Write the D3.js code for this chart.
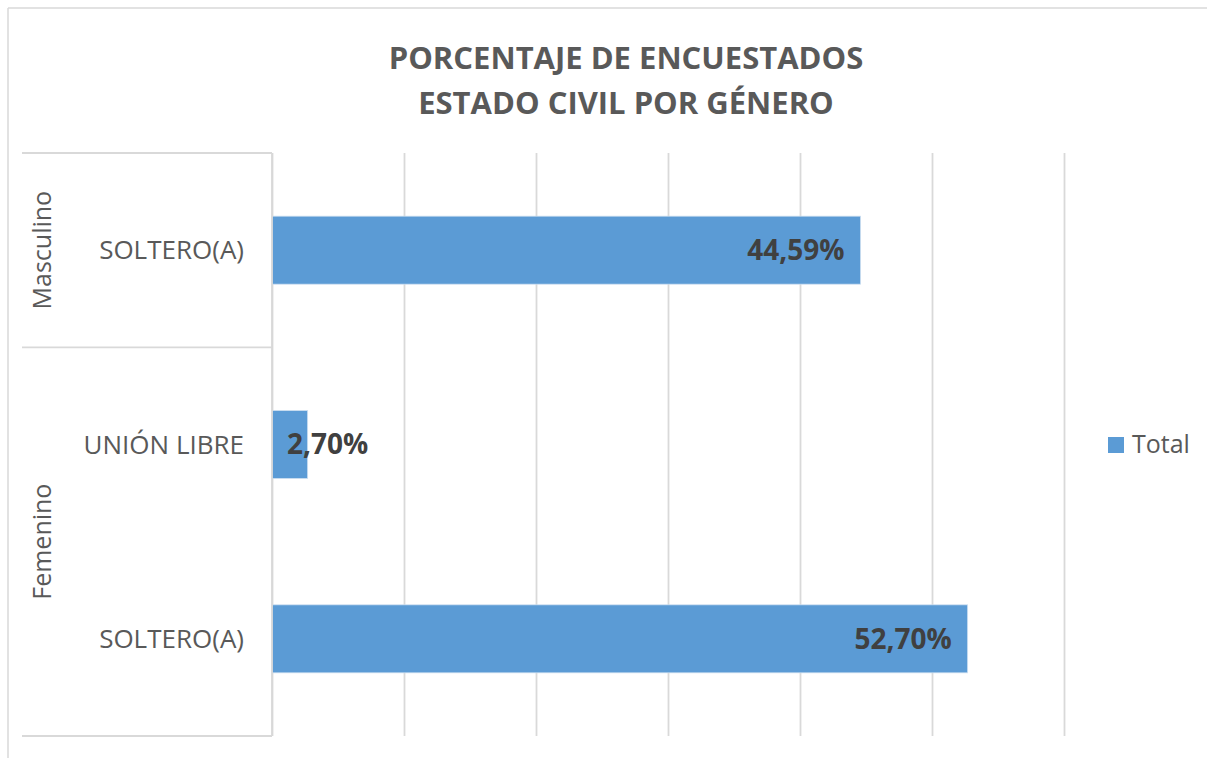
<!DOCTYPE html>
<html>
<head>
<meta charset="utf-8">
<script src="https://cdn.jsdelivr.net/npm/d3@7"></script>
<style>
  body { margin: 0; background: #fff; }
  text { font-family: "Open Sans", sans-serif; }
</style>
</head>
<body>
<script>
// data
const generos = ["Masculino", "Femenino", "Femenino"];
const estados = ["SOLTERO(A)", "UNIÓN LIBRE", "SOLTERO(A)"];
const totales = [44.59, 2.70, 52.70];
const xTicks = [0, 10, 20, 30, 40, 50, 60];
const titulo = ["PORCENTAJE DE ENCUESTADOS", "ESTADO CIVIL POR GÉNERO"];
const serie = "Total";

const w = 1207, h = 758;
const barColor = "#5b9bd5";
const gridColor = "#d9d9d9";

const svg = d3.select("body").append("svg")
  .attr("width", w)
  .attr("height", h);

// outer chart border (only top/left visible in the crop)
svg.append("line").attr("x1", 8).attr("y1", 8).attr("x2", w).attr("y2", 8)
  .attr("stroke", gridColor).attr("stroke-width", 1.5);
svg.append("line").attr("x1", 8).attr("y1", 8).attr("x2", 8).attr("y2", h)
  .attr("stroke", gridColor).attr("stroke-width", 1.5);

// title
svg.append("g").selectAll("text")
  .data(titulo)
  .enter()
  .append("text")
  .attr("x", 626)
  .attr("y", (d, i) => 69 + i * 45)
  .attr("text-anchor", "middle")
  .style("font-size", "31px")
  .style("font-weight", 700)
  .style("fill", "#595959")
  .text(d => d);

// scales
const rows = estados.map((d, i) => i);
const xScale = d3.scaleLinear().domain([0, 60]).range([272, 1064]);
const yScale = d3.scaleBand().domain(rows).range([153, 736])
  .paddingInner(0.65).paddingOuter(0.325);

// gridlines
const xAxis = d3.axisBottom(xScale).tickValues(xTicks)
  .tickSize(-(736 - 153)).tickFormat("");
const gx = svg.append("g")
  .attr("transform", "translate(0,736)")
  .call(xAxis);
gx.select(".domain").remove();
gx.selectAll(".tick line").attr("stroke", gridColor).attr("stroke-width", 1.8);

// category box lines
const step = yScale.step();
const groupBounds = [153];
rows.forEach(i => {
  if (i > 0 && generos[i] !== generos[i - 1]) {
    groupBounds.push(yScale(i) - step * yScale.paddingInner() / 2);
  }
});
groupBounds.push(736);
svg.append("g").selectAll("line")
  .data(groupBounds)
  .enter()
  .append("line")
  .attr("x1", 22).attr("x2", 272)
  .attr("y1", d => d).attr("y2", d => d)
  .attr("stroke", gridColor).attr("stroke-width", 1.8);

// bars
svg.append("g").selectAll("rect")
  .data(totales)
  .enter()
  .append("rect")
  .attr("x", xScale(0))
  .attr("y", (d, i) => yScale(i))
  .attr("width", d => xScale(d) - xScale(0))
  .attr("height", yScale.bandwidth())
  .attr("fill", barColor)
  .attr("stroke", "#cfe0f1")
  .attr("stroke-width", 0.8);

// data labels
const fmt = d => d.toFixed(2).replace(".", ",") + "%";
svg.append("g").selectAll("text")
  .data(totales)
  .enter()
  .append("text")
  .attr("y", (d, i) => yScale(i) + yScale.bandwidth() / 2)
  .attr("dy", "0.35em")
  .style("font-size", "28px")
  .style("font-weight", 700)
  .style("fill", "#404040")
  .text(d => fmt(d))
  .each(function(d) {
    const tw = this.getComputedTextLength();
    const barW = xScale(d) - xScale(0);
    if (tw + 30 > barW) {
      d3.select(this).attr("x", xScale(0) + 15).attr("text-anchor", "start");
    } else {
      d3.select(this).attr("x", xScale(d) - 16).attr("text-anchor", "end");
    }
  });

// axis line
svg.append("line")
  .attr("x1", 272).attr("x2", 272).attr("y1", 153).attr("y2", 736)
  .attr("stroke", gridColor).attr("stroke-width", 1.8);

// category labels
svg.append("g").selectAll("text")
  .data(estados)
  .enter()
  .append("text")
  .attr("x", 244)
  .attr("y", (d, i) => yScale(i) + yScale.bandwidth() / 2)
  .attr("dy", "0.35em")
  .attr("text-anchor", "end")
  .style("font-size", "26px")
  .style("fill", "#595959")
  .text(d => d);

// group labels
const grupos = [];
for (let i = 0; i < groupBounds.length - 1; i++) {
  grupos.push({ name: generos.find((g, j) => yScale(j) > groupBounds[i] && yScale(j) < groupBounds[i + 1]),
                mid: (groupBounds[i] + groupBounds[i + 1]) / 2 });
}
svg.append("g").selectAll("text")
  .data(grupos)
  .enter()
  .append("text")
  .attr("transform", d => `translate(42,${d.mid}) rotate(-90)`)
  .attr("dy", "0.35em")
  .attr("text-anchor", "middle")
  .style("font-size", "25px")
  .style("fill", "#595959")
  .text(d => d.name);

// legend
svg.append("rect")
  .attr("x", 1108).attr("y", 437)
  .attr("width", 16).attr("height", 16)
  .attr("fill", barColor);
svg.append("text")
  .attr("x", 1132).attr("y", 453)
  .style("font-size", "25px")
  .style("fill", "#595959")
  .text(serie);
</script>
</body>
</html>
